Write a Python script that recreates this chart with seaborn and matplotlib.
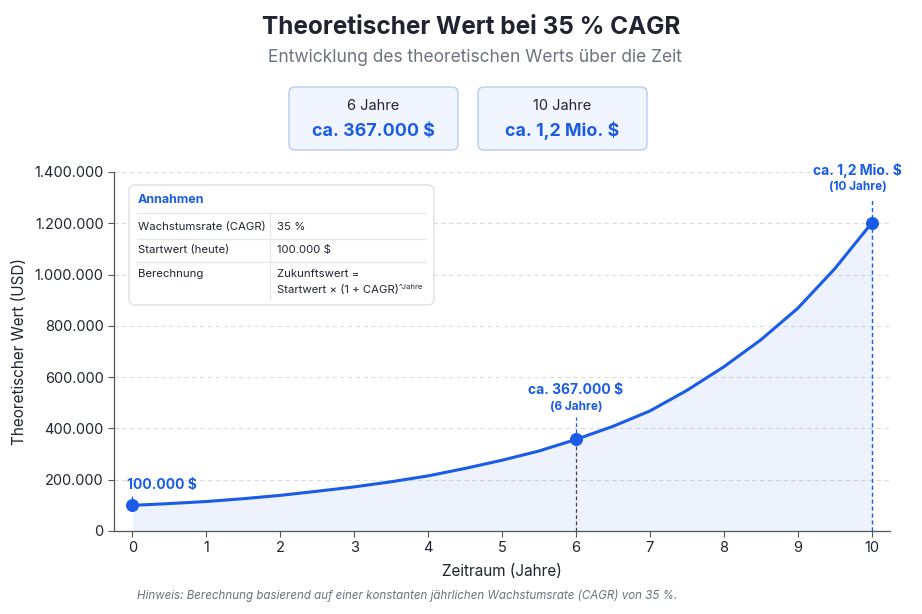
import numpy as np
import pandas as pd
import seaborn as sns
import matplotlib.pyplot as plt
from matplotlib.patches import FancyBboxPatch
from matplotlib.lines import Line2D
from matplotlib.transforms import Affine2D
from matplotlib.ticker import FuncFormatter

# Werte (halbjährlich)
jahre = [0, 0.5, 1, 1.5, 2, 2.5, 3, 3.5, 4, 4.5, 5, 5.5, 6, 6.5, 7, 7.5, 8, 8.5, 9, 9.5, 10]
wert = [100000, 107000, 115000, 126000, 139000, 155000, 172000, 192000, 215000, 244000,
        276000, 312000, 357000, 408000, 468000, 548000, 640000, 745000, 868000, 1022000, 1200000]

markiert_jahre = [0, 6, 10]
markiert_wert = [100000, 357000, 1200000]

kpi_titel = ["6 Jahre", "10 Jahre"]
kpi_werte = ["ca. 367.000 $", "ca. 1,2 Mio. $"]

tabelle_links = ["Wachstumsrate (CAGR)", "Startwert (heute)", "Berechnung"]
tabelle_rechts = ["35 %", "100.000 $", "Zukunftswert =\nStartwert × (1 + CAGR)"]

y_ticks = [0, 200000, 400000, 600000, 800000, 1000000, 1200000, 1400000]
x_ticks = list(range(0, 11))

blau = "#1a5ce5"
dunkel = "#1f2430"
grau = "#6b7280"

sns.set_theme(style="white")
plt.rcParams['font.family'] = ['Inter', 'DejaVu Sans']

fig = plt.figure(figsize=(9.22, 6.14), dpi=100)
fig.patch.set_facecolor("white")
# Pixel-Koordinaten (oben links = 0,0)
T = Affine2D().scale(1, -1).translate(0, 614).scale(1 / 922, 1 / 614) + fig.transFigure

ax = fig.add_axes([114 / 922, (614 - 531) / 614, (890 - 114) / 922, (531 - 172) / 614])
df = pd.DataFrame({"Jahr": jahre, "Wert": wert})

ax.fill_between(df["Jahr"], df["Wert"], color=blau, alpha=0.08, lw=0)
sns.lineplot(data=df, x="Jahr", y="Wert", color=blau, lw=2.2, ax=ax, zorder=4,
             solid_joinstyle="round")
sns.scatterplot(x=markiert_jahre, y=markiert_wert, color=blau, s=75, edgecolor=blau,
                zorder=6, ax=ax, legend=False)

# gestrichelte Hilfslinien
ax.vlines(6, 0, markiert_wert[1], colors="#3d4350", linestyles=(0, (3, 2)), lw=0.9, zorder=3)
ax.vlines(6, markiert_wert[1], 445000, colors=blau, linestyles=(0, (3, 2)), lw=0.9, zorder=3)
ax.vlines(10, 0, 1300000, colors=blau, linestyles=(0, (3, 2)), lw=1.0, zorder=3)
ax.vlines(0, markiert_wert[0], 135000, colors=blau, linestyles=(0, (3, 2)), lw=0.9, zorder=3)

ax.text(-0.08, 179000, "100.000 $", color=blau, fontsize=10, fontweight="bold", ha="left", va="center")
ax.text(6, 550000, "ca. 367.000 $", color=blau, fontsize=10, fontweight="bold", ha="center", va="center")
ax.text(6, 484000, "(6 Jahre)", color=blau, fontsize=8.5, fontweight="bold", ha="center", va="center")
ax.text(9.81, 1406000, "ca. 1,2 Mio. $", color=blau, fontsize=10, fontweight="bold", ha="center",
        va="center", clip_on=False)
ax.text(9.81, 1340000, "(10 Jahre)", color=blau, fontsize=8.5, fontweight="bold", ha="center", va="center")

ax.set_xlim(-0.25, 10.25)
ax.set_ylim(0, 1400000)
ax.set_xticks(x_ticks)
ax.set_yticks(y_ticks)
ax.yaxis.set_major_formatter(FuncFormatter(lambda v, p: f"{int(v):,}".replace(",", ".")))
ax.tick_params(axis="both", bottom=True, left=True, length=4, width=0.8, color="#555555",
               labelsize=10.5, labelcolor=dunkel)
ax.yaxis.grid(True, ls=(0, (4, 3)), color="#dcdcdc", lw=0.8)
ax.xaxis.grid(False)
sns.despine(ax=ax)
for s in ["left", "bottom"]:
    ax.spines[s].set_color("#555555")
    ax.spines[s].set_linewidth(0.9)
ax.set_xlabel("Zeitraum (Jahre)", fontsize=11, color=dunkel, labelpad=6)
ax.set_ylabel("Theoretischer Wert (USD)", fontsize=11, color=dunkel, labelpad=5)

# Titel
fig.text(471, 27, "Theoretischer Wert bei 35 % CAGR", transform=T, ha="center", va="center",
         fontsize=17.5, fontweight="bold", color=dunkel)
fig.text(475, 58, "Entwicklung des theoretischen Werts über die Zeit", transform=T, ha="center",
         va="center", fontsize=12.5, color=grau)

# KPI-Boxen
for i, (t, w) in enumerate(zip(kpi_titel, kpi_werte)):
    x0 = 289 + i * 189
    box = FancyBboxPatch((x0, 87), 169, 63, boxstyle="round,pad=0,rounding_size=6",
                         transform=T, facecolor="#f1f5ff", edgecolor="#b9ccf5", lw=1)
    fig.add_artist(box)
    fig.text(x0 + 84.5, 106, t, transform=T, ha="center", va="center", fontsize=10.5, color=dunkel)
    fig.text(x0 + 84.5, 131, w, transform=T, ha="center", va="center", fontsize=12.8,
             fontweight="bold", color=blau)

# Annahmen-Tabelle
tab = FancyBboxPatch((129, 185), 305, 120, boxstyle="round,pad=0,rounding_size=6",
                     transform=T, facecolor="white", edgecolor="#dedfe3", lw=1, zorder=5)
fig.add_artist(tab)
fig.text(138, 200, "Annahmen", transform=T, ha="left", va="center", fontsize=9,
         fontweight="bold", color=blau, zorder=6)
for yy in [213, 239, 262]:
    fig.add_artist(Line2D([137, 426], [yy, yy], transform=T, color="#e6e7ea", lw=0.9, zorder=6))
fig.add_artist(Line2D([270, 270], [213, 300], transform=T, color="#e6e7ea", lw=0.9, zorder=6))
zeilen_y = [227, 250, 274]
for yy, l in zip(zeilen_y, tabelle_links):
    fig.text(138, yy, l, transform=T, ha="left", va="center", fontsize=8.2, color=dunkel, zorder=6)
for yy, r in zip(zeilen_y[:2], tabelle_rechts[:2]):
    fig.text(277, yy, r, transform=T, ha="left", va="center", fontsize=8.2, color=dunkel, zorder=6)
z1, z2 = tabelle_rechts[2].split("\n")
fig.text(277, 274, z1, transform=T, ha="left", va="center", fontsize=8.2, color=dunkel, zorder=6)
formel = fig.text(277, 290, z2, transform=T, ha="left", va="center", fontsize=8.2, color=dunkel, zorder=6)
fig.add_artist(plt.Annotation("^Jahre", xy=(1, 1), xycoords=formel, xytext=(0, 0.5),
                              textcoords="offset points", ha="left", va="top", fontsize=5.5,
                              color=dunkel, zorder=6))

# Hinweis
fig.text(137, 596, "Hinweis: Berechnung basierend auf einer konstanten jährlichen Wachstumsrate (CAGR) von 35 %.",
         transform=T, ha="left", va="center", fontsize=8.3, style="italic", color=grau)

fig.savefig("out.png", dpi=100, facecolor="white")
